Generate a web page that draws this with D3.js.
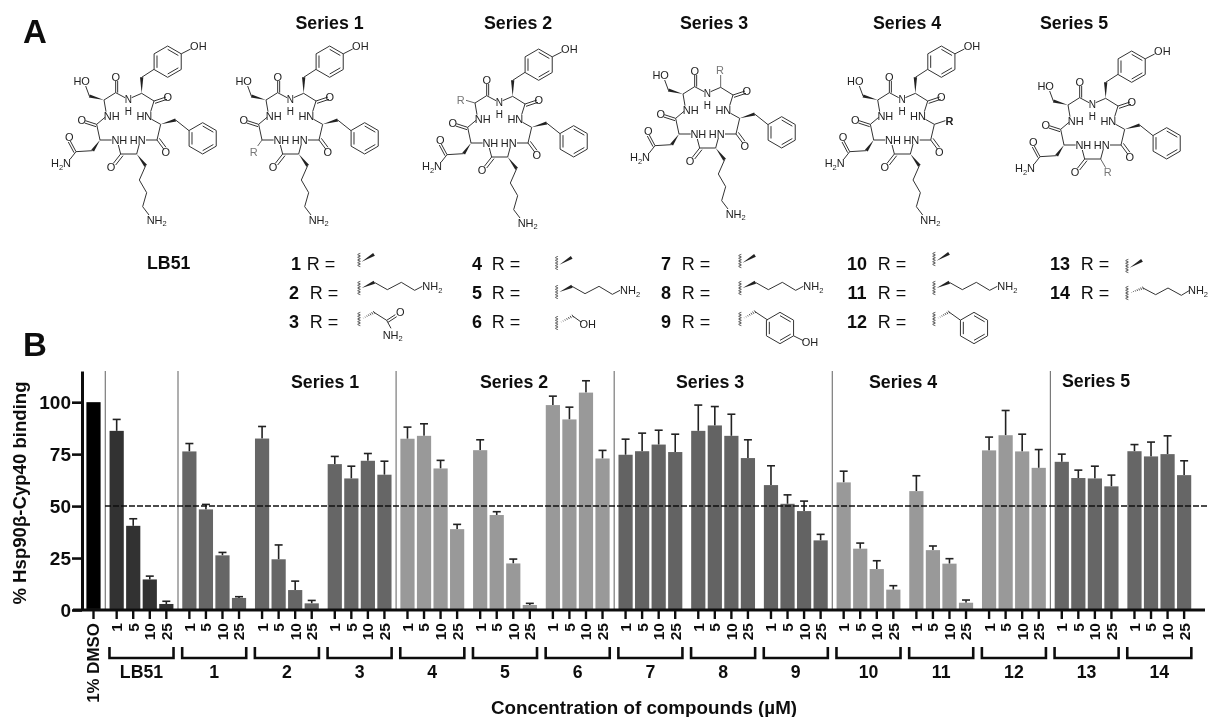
<!DOCTYPE html>
<html>
<head>
<meta charset="utf-8">
<title>Hsp90b-Cyp40 binding</title>
<script src="https://cdn.jsdelivr.net/npm/d3@7"></script>
<style>
  html, body { margin: 0; padding: 0; background: #fff; }
  svg { display: block; }
  text { font-family: "Liberation Sans", Arial, sans-serif; fill: #111; }
  .atom { font-size: 11px; fill: #222; }
</style>
</head>
<body>
<div id="chart"></div>
<script>
var compounds = ["LB51", "1", "2", "3", "4", "5", "6", "7", "8", "9", "10", "11", "12", "13", "14"];
var concentrations = ["1", "5", "10", "25"];
var controlLabel = "1% DMSO";
var controlValue = 100;
var yTicks = [0, 25, 50, 75, 100];

// % binding, one row per compound (1, 5, 10, 25 uM)
var means = [
    [86.2, 40.5, 14.7, 2.9],
    [76.3, 48.4, 26.3, 5.8],
    [82.5, 24.4, 9.6, 3.2],
    [70.2, 63.3, 71.8, 65.1],
    [82.4, 83.8, 68.1, 38.9],
    [76.9, 45.7, 22.4, 2.4],
    [98.6, 91.7, 104.6, 72.9],
    [74.7, 76.4, 79.6, 76.0],
    [86.2, 88.8, 83.8, 73.1],
    [60.1, 51.1, 47.6, 33.5],
    [61.4, 29.5, 19.7, 9.8],
    [57.2, 28.8, 22.3, 3.5],
    [76.8, 84.1, 76.3, 68.4],
    [71.3, 63.5, 63.3, 59.5],
    [76.4, 73.9, 75.0, 64.9]
];

// top of each error bar
var upper = [
    [91.7, 43.9, 16.3, 4.2],
    [80.1, 50.8, 27.7, 6.4],
    [88.3, 31.3, 13.9, 4.6],
    [73.9, 69.2, 75.3, 71.6],
    [88.0, 89.6, 72.0, 41.2],
    [81.9, 47.3, 24.5, 3.2],
    [102.9, 97.6, 110.3, 76.8],
    [82.2, 85.1, 86.5, 84.6],
    [98.6, 97.9, 94.2, 81.9],
    [69.4, 55.4, 52.4, 36.4],
    [66.8, 32.2, 23.7, 11.7],
    [64.6, 30.8, 24.7, 4.8],
    [83.2, 96.0, 84.6, 77.2],
    [75.0, 67.3, 69.2, 64.9],
    [79.6, 80.8, 83.8, 71.8]
];

var width = 1209, height = 717;

var svg = d3.select("#chart").append("svg")
    .attr("width", width)
    .attr("height", height);

// the reference is a soft scan, so everything gets a very light blur
svg.append("defs").append("filter").attr("id", "soft")
    .attr("x", 0).attr("y", 0).attr("width", "100%").attr("height", "100%")
    .attr("filterUnits", "userSpaceOnUse")
    .append("feGaussianBlur").attr("stdDeviation", 0.5);

var root = svg.append("g").attr("filter", "url(#soft)");
root.append("rect").attr("width", width).attr("height", height).attr("fill", "#fff");

var boldText = function (sel, x, y, str, size, anchor) {
    return sel.append("text")
        .attr("x", x).attr("y", y)
        .attr("dy", "0.35em")
        .attr("text-anchor", anchor || "middle")
        .attr("font-weight", "bold")
        .attr("font-size", size)
        .text(str);
};

/* ---------- panel B: bar chart ---------- */

var yScale = d3.scaleLinear().domain([0, 115]).range([610, 371]);
var groupScale = d3.scaleBand().domain(compounds).range([108.4, 108.4 + 15 * 72.7]);
var innerScale = d3.scaleBand().domain(concentrations).range([0, 66.2]);
var controlScale = d3.scaleBand().domain([controlLabel]).range([85.2, 101.8]);
var barWidth = 14.2;

var groupFill = function (i) {
    if (i == 0) return "#333333";
    if (i <= 3) return "#666666";
    if (i <= 6) return "#999999";
    if (i <= 9) return "#636363";
    if (i <= 12) return "#999999";
    return "#666666";
};

var chart = root.append("g");

// separators between the series
var separatorGroups = ["LB51", "1", "4", "7", "10", "13"];
var separatorX = function (name) {
    return groupScale(name) - 3.1;
};
chart.selectAll(".separator")
    .data(separatorGroups)
    .enter().append("line")
    .attr("class", "separator")
    .attr("x1", separatorX).attr("x2", separatorX)
    .attr("y1", yScale(115)).attr("y2", yScale(0))
    .attr("stroke", "#7a7a7a").attr("stroke-width", 1.2);

chart.append("rect")
    .attr("x", controlScale(controlLabel) + (controlScale.bandwidth() - barWidth) / 2)
    .attr("width", barWidth)
    .attr("y", yScale(controlValue))
    .attr("height", yScale(0) - yScale(controlValue))
    .attr("fill", "#000");

var groups = chart.selectAll(".compound")
    .data(compounds)
    .enter().append("g")
    .attr("class", "compound")
    .attr("transform", function (d) { return "translate(" + groupScale(d) + ",0)"; });

groups.each(function (name, i) {
    var g = d3.select(this);
    var rows = concentrations.map(function (c, j) {
        return { conc: c, mean: means[i][j], top: upper[i][j] };
    });
    var cx = function (d) { return innerScale(d.conc) + innerScale.bandwidth() / 2; };

    g.selectAll(".err")
        .data(rows).enter().append("line")
        .attr("class", "err")
        .attr("x1", cx).attr("x2", cx)
        .attr("y1", function (d) { return yScale(d.mean); })
        .attr("y2", function (d) { return yScale(d.top); })
        .attr("stroke", "#222").attr("stroke-width", 1.6);

    g.selectAll(".cap")
        .data(rows).enter().append("line")
        .attr("class", "cap")
        .attr("x1", function (d) { return cx(d) - 4; })
        .attr("x2", function (d) { return cx(d) + 4; })
        .attr("y1", function (d) { return yScale(d.top); })
        .attr("y2", function (d) { return yScale(d.top); })
        .attr("stroke", "#222").attr("stroke-width", 1.6);

    g.selectAll(".bar")
        .data(rows).enter().append("rect")
        .attr("class", "bar")
        .attr("x", function (d) { return cx(d) - barWidth / 2; })
        .attr("width", barWidth)
        .attr("y", function (d) { return yScale(d.mean); })
        .attr("height", function (d) { return yScale(0) - yScale(d.mean); })
        .attr("fill", groupFill(i));

    // concentration ticks
    var axis = g.append("g")
        .attr("transform", "translate(0," + yScale(0) + ")")
        .call(d3.axisBottom(innerScale).tickSize(9).tickPadding(4));
    axis.select(".domain").remove();
    axis.selectAll("line").attr("stroke", "#111").attr("stroke-width", 2.4);
    axis.selectAll("text")
        .attr("transform", "rotate(-90)")
        .attr("x", -13).attr("y", 0)
        .attr("dy", "0.35em")
        .attr("text-anchor", "end")
        .attr("font-family", '"Liberation Sans", Arial, sans-serif')
        .attr("font-weight", "bold")
        .attr("font-size", 15.5);

    // bracket under the four ticks
    var left = innerScale.bandwidth() * 0.5 - 7.2;
    var right = innerScale(concentrations[3]) + innerScale.bandwidth() * 0.5 + 7.2;
    g.append("path")
        .attr("d", "M" + left + ",647V658H" + right + "V647")
        .attr("fill", "none").attr("stroke", "#111").attr("stroke-width", 2.6);

    boldText(g, (left + right) / 2, 672, name, 17.7);
});

// control tick and label
var controlAxis = chart.append("g")
    .attr("transform", "translate(0," + yScale(0) + ")")
    .call(d3.axisBottom(controlScale).tickSize(9));
controlAxis.select(".domain").remove();
controlAxis.selectAll("line").attr("stroke", "#111").attr("stroke-width", 2.4);
controlAxis.selectAll("text")
    .attr("transform", "rotate(-90)")
    .attr("x", -13).attr("y", 0)
    .attr("dy", "0.35em")
    .attr("text-anchor", "end")
    .attr("font-family", '"Liberation Sans", Arial, sans-serif')
    .attr("font-weight", "bold")
    .attr("font-size", 16.9);

// 50% line
chart.append("line")
    .attr("x1", 105).attr("x2", 1207)
    .attr("y1", yScale(50)).attr("y2", yScale(50))
    .attr("stroke", "#111").attr("stroke-width", 1.5)
    .attr("stroke-dasharray", "6 2");

// axes
chart.append("line")
    .attr("x1", 73).attr("x2", 1205)
    .attr("y1", yScale(0)).attr("y2", yScale(0))
    .attr("stroke", "#111").attr("stroke-width", 3);

var yAxis = chart.append("g")
    .attr("transform", "translate(82,0)")
    .call(d3.axisLeft(yScale).tickValues(yTicks).tickSize(10).tickSizeOuter(0).tickPadding(1));
yAxis.select(".domain").attr("stroke", "#111").attr("stroke-width", 3);
yAxis.selectAll("line").attr("stroke", "#111").attr("stroke-width", 2.6);
yAxis.selectAll("text")
    .attr("font-family", '"Liberation Sans", Arial, sans-serif')
    .attr("font-weight", "bold")
    .attr("font-size", 19);

boldText(chart, 0, 0, "% Hsp90\u03B2-Cyp40 binding", 18.6)
    .attr("transform", "translate(19,493) rotate(-90)");
boldText(chart, 644, 707, "Concentration of compounds (\u00B5M)", 18.8);

boldText(chart, 325, 382, "Series 1", 17.8);
boldText(chart, 514, 382, "Series 2", 17.8);
boldText(chart, 710, 382, "Series 3", 17.8);
boldText(chart, 903, 382, "Series 4", 17.8);
boldText(chart, 1096, 381, "Series 5", 17.8);

boldText(root, 35, 31, "A", 33);
boldText(root, 35, 344, "B", 33);

/* ---------- panel A: structures ---------- */
// drawn in 3x units, the same as the zoomed scan, then scaled down

var third = function (p) { return [p[0] / 3, p[1] / 3]; };
var bondLine = d3.line();

var ring = function (cx, cy, r) {
    var pts = [];
    for (var i = 0; i < 6; i++) {
        var a = -Math.PI / 2 + i * Math.PI / 3;
        pts.push([cx + r * Math.cos(a), cy + r * Math.sin(a)]);
    }
    return pts;
};

var drawBond = function (g, pts, color) {
    g.append("path")
        .attr("d", bondLine(pts.map(third)))
        .attr("fill", "none")
        .attr("stroke", color || "#333")
        .attr("stroke-width", 1)
        .attr("stroke-linejoin", "round");
};

// double bond: the line plus a parallel one shifted by dx,dy
var drawDouble = function (g, a, b, dx, dy) {
    drawBond(g, [a, b]);
    drawBond(g, [[a[0] + dx, a[1] + dy], [b[0] + dx, b[1] + dy]]);
};

var drawWedge = function (g, a, b) {
    var dx = b[0] - a[0], dy = b[1] - a[1];
    var len = Math.sqrt(dx * dx + dy * dy);
    var nx = -dy / len * 5, ny = dx / len * 5;
    g.append("path")
        .attr("d", bondLine([a, [b[0] + nx, b[1] + ny], [b[0] - nx, b[1] - ny]].map(third)) + "Z")
        .attr("fill", "#222");
};

var drawHash = function (g, a, b) {
    for (var i = 1; i <= 7; i++) {
        var t = i / 7;
        var x = a[0] + (b[0] - a[0]) * t, y = a[1] + (b[1] - a[1]) * t;
        var dx = b[0] - a[0], dy = b[1] - a[1];
        var len = Math.sqrt(dx * dx + dy * dy);
        var nx = -dy / len * 4.5 * t, ny = dx / len * 4.5 * t;
        drawBond(g, [[x + nx, y + ny], [x - nx, y - ny]], "#555");
    }
};

var drawRing = function (g, cx, cy) {
    var pts = ring(cx, cy, 47);
    drawBond(g, pts.concat([pts[0]]));
    var inner = ring(cx, cy, 37);
    [[0, 1], [2, 3], [4, 5]].forEach(function (p) {
        drawBond(g, [inner[p[0]], inner[p[1]]]);
    });
    return pts;
};

var atom = function (g, x, y, str, sub, opts) {
    opts = opts || {};
    var t = g.append("text")
        .attr("class", "atom")
        .attr("x", x / 3).attr("y", y / 3)
        .attr("dy", "0.35em")
        .attr("text-anchor", "middle");
    if (opts.color) t.style("fill", opts.color);
    if (opts.bold) t.attr("font-weight", "bold");
    t.append("tspan").text(str);
    if (sub) {
        t.append("tspan").attr("font-size", 7.5).attr("dy", 2.5).text(sub);
        if (opts.after) t.append("tspan").attr("dy", -2.5).text(opts.after);
    }
    return t;
};

var drawMolecule = function (dx, dy, replaced) {
    var g = root.append("g").attr("transform", "translate(" + dx + "," + dy + ")");

    // backbone around the macrocycle
    drawBond(g, [[347, 278], [375, 293]]);
    drawBond(g, [[395, 293], [425, 280], [462, 303], [452, 335]]);
    drawDouble(g, [462, 303], [498, 291], 3, 7);
    drawBond(g, [[455, 358], [482, 373], [471, 420], [438, 420]]);
    drawDouble(g, [471, 420], [491, 447], 7, -5);
    drawBond(g, [[418, 432], [410, 462], [362, 462], [355, 435]]);
    drawDouble(g, [362, 462], [340, 490], 7, 5);
    drawBond(g, [[335, 420], [300, 420], [290, 373], [315, 352]]);
    drawDouble(g, [290, 373], [256, 362], -2, 7);
    drawBond(g, [[318, 335], [312, 300], [347, 278]]);
    drawDouble(g, [347, 278], [347, 243], 6, 0);

    // N and H stacked, a bit smaller so they stay apart
    atom(g, 385, 298, "N").style("font-size", "10px");
    atom(g, 385, 333, "H").style("font-size", "10px");

    atom(g, 433, 348, "HN");
    atom(g, 413, 420, "HN");
    atom(g, 358, 420, "NH");
    atom(g, 335, 348, "NH");
    atom(g, 503, 290, "O");
    atom(g, 497, 457, "O");
    atom(g, 333, 500, "O");
    atom(g, 245, 360, "O");
    atom(g, 347, 231, "O");

    // side chains, one of them is swapped for R in each series
    if (replaced != "ser") {
        drawWedge(g, [312, 300], [268, 288]);
        drawBond(g, [[268, 288], [257, 258]]);
        atom(g, 245, 244, "HO");
    } else {
        drawBond(g, [[312, 300], [285, 292]], "#666");
        atom(g, 269, 291, "R", null, { color: "#777" });
    }
    if (replaced != "tyr") {
        drawWedge(g, [425, 280], [425, 232]);
        drawBond(g, [[425, 232], [462, 208]]);
        var tyrPts = drawRing(g, 503, 185);
        drawBond(g, [tyrPts[1], [572, 147]]);
        atom(g, 595, 139, "OH");
    } else {
        drawBond(g, [[425, 280], [425, 243]], "#666");
        atom(g, 423, 228, "R", null, { color: "#777" });
    }
    if (replaced != "phe") {
        drawWedge(g, [482, 373], [527, 360]);
        drawBond(g, [[527, 360], [567, 392]]);
        drawRing(g, 608, 415);
    } else {
        drawBond(g, [[482, 373], [515, 362]]);
        atom(g, 527, 362, "R", null, { bold: true, color: "#222" });
    }
    if (replaced != "lys") {
        drawWedge(g, [410, 462], [437, 497]);
        drawBond(g, [[437, 497], [418, 540], [440, 578], [428, 620], [447, 645]]);
        atom(g, 470, 660, "NH", "2");
    } else {
        drawBond(g, [[410, 462], [425, 488]], "#666");
        atom(g, 431, 502, "R", null, { color: "#777" });
    }
    if (replaced != "asn") {
        drawWedge(g, [300, 420], [278, 452]);
        drawBond(g, [[278, 452], [228, 455], [210, 478]]);
        drawDouble(g, [228, 455], [211, 423], -6, 3);
        atom(g, 208, 410, "O");
        atom(g, 183, 490, "H", "2", { after: "N" });
    } else {
        drawBond(g, [[300, 420], [287, 438]], "#666");
        atom(g, 275, 455, "R", null, { color: "#777" });
    }
};

drawMolecule(0, 0, null);
drawMolecule(162, 0, "asn");
drawMolecule(371, 3, "ser");
drawMolecule(579, -6, "tyr");
drawMolecule(773.7, 0, "phe");
drawMolecule(964, 5, "lys");

boldText(root, 329.5, 23, "Series 1", 17.8);
boldText(root, 518, 23, "Series 2", 17.8);
boldText(root, 714, 23, "Series 3", 17.8);
boldText(root, 907, 23, "Series 4", 17.8);
boldText(root, 1074, 23, "Series 5", 17.8);
boldText(root, 168.7, 263, "LB51", 17.7);

/* ---------- R group list ---------- */

var squiggle = function (g) {
    var pts = [];
    for (var i = -5; i <= 5; i++) {
        pts.push([(i % 2 == 0 ? -4 : 4), i * 4]);
    }
    g.append("path")
        .attr("d", d3.line().curve(d3.curveCatmullRom)(pts.map(third)))
        .attr("fill", "none").attr("stroke", "#444").attr("stroke-width", 0.9);
};

var rGroups = {
    methyl: function (g) {
        drawWedge(g, [8, 5], [45, -17]);
    },
    lysine: function (g) {
        drawWedge(g, [8, 0], [46, -17]);
        drawBond(g, [[46, -17], [85, 5], [127, -17], [167, 7], [190, -5]]);
        atom(g, 220, -5, "NH", "2");
    },
    lysineHash: function (g) {
        drawHash(g, [8, 0], [48, -15]);
        drawBond(g, [[48, -15], [86, 5], [123, -15], [163, 7], [188, -8]]);
        atom(g, 213, -8, "NH", "2");
    },
    amide: function (g) {
        drawHash(g, [8, 0], [45, -20]);
        drawBond(g, [[45, -20], [83, 4], [96, 28]]);
        drawDouble(g, [83, 4], [109, -13], 4, 6);
        atom(g, 124, -20, "O");
        atom(g, 101, 47, "NH", "2");
    },
    serine: function (g) {
        drawHash(g, [8, 0], [48, -21]);
        drawBond(g, [[48, -21], [73, -3]]);
        atom(g, 93, 2, "OH");
    },
    tyrosine: function (g) {
        drawHash(g, [8, 0], [45, -22]);
        drawBond(g, [[45, -22], [83, 3]]);
        var pts = drawRing(g, 120, 27);
        drawBond(g, [pts[2], [190, 65]]);
        atom(g, 210, 68, "OH");
    },
    benzyl: function (g) {
        drawHash(g, [8, 0], [45, -21]);
        drawBond(g, [[45, -21], [80, 4]]);
        drawRing(g, 120, 27);
    }
};

var rRows = [
    { num: "1", numX: 296, eqX: 321, y: 264, sx: 359, sy: 260, group: "methyl" },
    { num: "2", numX: 294, eqX: 324, y: 293, sx: 359, sy: 288, group: "lysine" },
    { num: "3", numX: 294, eqX: 324, y: 322, sx: 359, sy: 319, group: "amide" },
    { num: "4", numX: 477, eqX: 506, y: 264, sx: 556.7, sy: 263, group: "methyl" },
    { num: "5", numX: 477, eqX: 506, y: 293, sx: 556.7, sy: 292, group: "lysine" },
    { num: "6", numX: 477, eqX: 506, y: 322, sx: 556.7, sy: 323, group: "serine" },
    { num: "7", numX: 666, eqX: 696, y: 264, sx: 740, sy: 261, group: "methyl" },
    { num: "8", numX: 666, eqX: 696, y: 293, sx: 740, sy: 288, group: "lysine" },
    { num: "9", numX: 666, eqX: 696, y: 322, sx: 740, sy: 319, group: "tyrosine" },
    { num: "10", numX: 857, eqX: 892, y: 264, sx: 934, sy: 259, group: "methyl" },
    { num: "11", numX: 857, eqX: 892, y: 293, sx: 934, sy: 288, group: "lysine" },
    { num: "12", numX: 857, eqX: 892, y: 322, sx: 934, sy: 319, group: "benzyl" },
    { num: "13", numX: 1060, eqX: 1095, y: 264, sx: 1127, sy: 266, group: "methyl" },
    { num: "14", numX: 1060, eqX: 1095, y: 293, sx: 1127, sy: 293, group: "lysineHash" }
];

rRows.forEach(function (r) {
    boldText(root, r.numX, r.y, r.num, 18);
    root.append("text")
        .attr("x", r.eqX).attr("y", r.y)
        .attr("dy", "0.35em")
        .attr("text-anchor", "middle")
        .attr("font-size", 18)
        .text("R =");
    var g = root.append("g").attr("transform", "translate(" + r.sx + "," + r.sy + ")");
    squiggle(g);
    rGroups[r.group](g);
});
</script>
</body>
</html>
